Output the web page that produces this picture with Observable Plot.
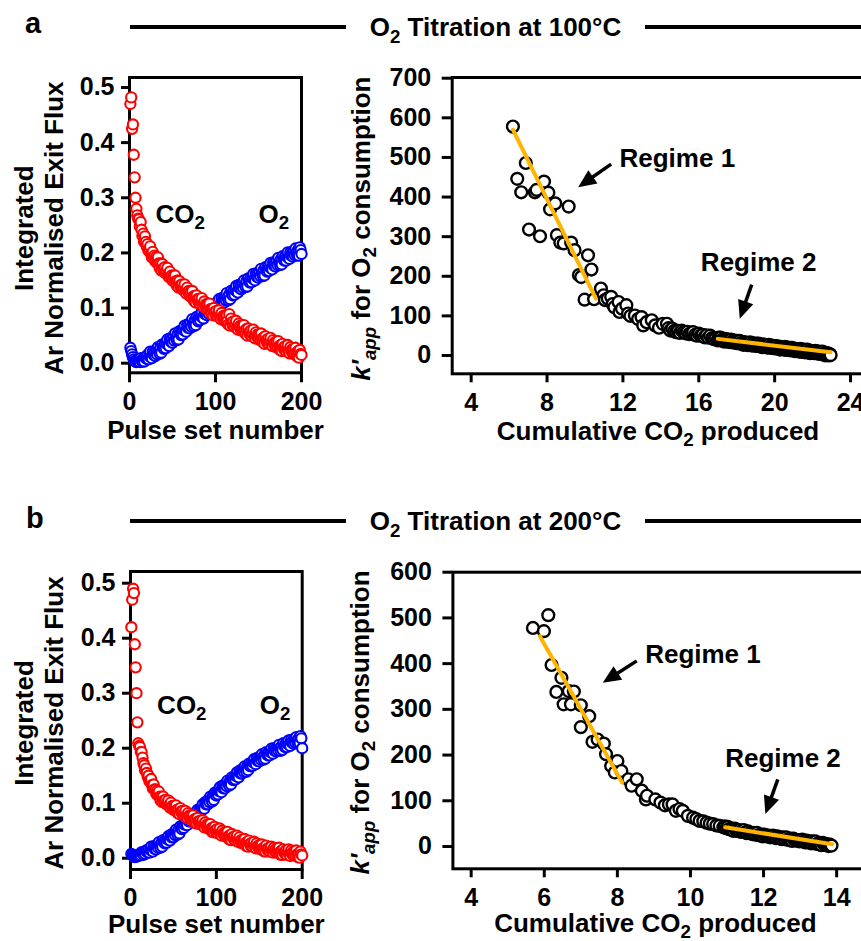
<!DOCTYPE html>
<html><head><meta charset="utf-8">
<script src="https://cdn.jsdelivr.net/npm/d3@7"></script>
<script src="https://cdn.jsdelivr.net/npm/@observablehq/plot@0.6"></script>
<style>
html,body{margin:0;padding:0;background:#fff;}
#root{position:relative;width:861px;height:941px;overflow:hidden;font-family:'Liberation Sans',Arial,Helvetica,sans-serif;font-weight:bold;color:#000;}
.heading{position:absolute;left:130px;width:731px;height:40px;display:flex;align-items:center;}
.heading .rule{flex:1;height:4px;background:#000;}
.heading .txt{font-size:26px;margin:0 24px;white-space:nowrap;line-height:1;}
.heading sub{font-size:0.72em;vertical-align:-0.375em;line-height:0;}
.panel-label{position:absolute;font-size:29px;line-height:29px;}
</style></head>
<body><div id="root">
<div class="panel-label" style="left:25px;top:9px">a</div>
<div class="heading" style="top:7px"><div class="rule"></div><div class="txt">O<sub>2</sub> Titration at 100°C</div><div class="rule"></div></div>
<div class="panel-label" style="left:26px;top:504px">b</div>
<div class="heading" style="top:501px"><div class="rule"></div><div class="txt">O<sub>2</sub> Titration at 200°C</div><div class="rule"></div></div>
</div>
<script>
// ---------------- data ----------------
const pulseSet = [1,2,3,4,5,6,7,8,9,10,11,12,13,14,15,16,17,18,19,20,21,22,23,24,25,26,27,28,29,30,31,32,33,34,35,36,37,38,39,40,41,42,43,44,45,46,47,48,49,50,51,52,53,54,55,56,57,58,59,60,61,62,63,64,65,66,67,68,69,70,71,72,73,74,75,76,77,78,79,80,81,82,83,84,85,86,87,88,89,90,91,92,93,94,95,96,97,98,99,100,101,102,103,104,105,106,107,108,109,110,111,112,113,114,115,116,117,118,119,120,121,122,123,124,125,126,127,128,129,130,131,132,133,134,135,136,137,138,139,140,141,142,143,144,145,146,147,148,149,150,151,152,153,154,155,156,157,158,159,160,161,162,163,164,165,166,167,168,169,170,171,172,173,174,175,176,177,178,179,180,181,182,183,184,185,186,187,188,189,190,191,192,193,194,195,196,197,198,199,200];

const co2A = [.470,.482,.425,.433,.378,.337,.300,.280,.268,.262,
.261,.248,.256,.242,.231,.235,.220,.230,.220,.212,
.216,.204,.207,.212,.198,.192,.202,.193,.195,.185,
.193,.182,.192,.181,.173,.181,.168,.180,.172,.167,
.174,.163,.167,.173,.160,.156,.166,.157,.159,.150,
.158,.148,.159,.149,.141,.150,.137,.149,.141,.136,
.143,.133,.137,.143,.130,.126,.137,.129,.131,.122,
.130,.120,.131,.121,.113,.122,.110,.123,.116,.111,
.117,.107,.112,.118,.106,.102,.112,.104,.107,.098,
.107,.097,.108,.098,.090,.099,.087,.100,.093,.088,
.095,.085,.090,.096,.084,.080,.091,.083,.086,.077,
.086,.076,.087,.077,.070,.089,.068,.081,.074,.069,
.076,.066,.071,.077,.065,.061,.072,.065,.068,.059,
.068,.058,.069,.059,.053,.062,.050,.063,.056,.052,
.059,.049,.054,.061,.049,.045,.056,.049,.052,.043,
.052,.043,.054,.044,.038,.047,.035,.049,.042,.037,
.044,.035,.040,.046,.035,.031,.042,.035,.038,.029,
.039,.029,.040,.031,.024,.033,.022,.035,.028,.024,
.031,.022,.027,.033,.022,.018,.029,.022,.025,.017,
.026,.017,.028,.019,.012,.022,.010,.024,.017,.015];

const o2A = [.028,.022,.016,.011,.007,.004,.003,.002,.003,.003,
.006,.002,.009,.005,.003,.008,.003,.011,.009,.008,
.015,.007,.013,.021,.011,.009,.021,.015,.020,.013,
.024,.016,.029,.022,.017,.029,.019,.034,.029,.026,
.035,.027,.035,.043,.033,.031,.045,.039,.044,.037,
.049,.041,.054,.046,.042,.053,.043,.058,.054,.051,
.060,.052,.060,.068,.058,.057,.070,.064,.070,.063,
.074,.066,.080,.072,.067,.078,.069,.084,.079,.076,
.086,.078,.085,.093,.083,.081,.095,.089,.094,.087,
.098,.090,.104,.096,.091,.102,.092,.107,.102,.099,
.109,.101,.108,.116,.106,.104,.118,.112,.117,.110,
.121,.114,.127,.119,.114,.125,.116,.131,.126,.123,
.132,.124,.132,.140,.130,.128,.142,.136,.141,.134,
.145,.137,.150,.142,.138,.149,.139,.154,.149,.146,
.155,.147,.154,.162,.152,.150,.163,.157,.162,.155,
.166,.158,.171,.163,.158,.169,.159,.174,.169,.166,
.175,.167,.174,.182,.172,.170,.183,.177,.182,.175,
.186,.178,.191,.183,.178,.189,.179,.194,.189,.186,
.194,.186,.193,.201,.191,.189,.201,.195,.200,.193,
.204,.196,.208,.200,.195,.206,.195,.210,.205,.198];

const co2B = [.420,.470,.490,.482,.389,.347,.300,.247,.209,.204,
.202,.193,.193,.183,.173,.169,.160,.163,.155,.148,
.150,.140,.142,.144,.133,.127,.134,.125,.125,.117,
.123,.114,.121,.112,.105,.112,.102,.112,.105,.101,
.106,.098,.101,.105,.096,.092,.101,.094,.095,.088,
.095,.088,.096,.088,.082,.089,.080,.091,.085,.081,
.086,.078,.082,.086,.077,.073,.082,.076,.078,.071,
.078,.070,.078,.070,.064,.072,.063,.073,.067,.063,
.068,.061,.065,.069,.060,.056,.065,.059,.061,.054,
.061,.054,.062,.054,.048,.056,.047,.057,.051,.047,
.053,.045,.049,.054,.045,.041,.050,.044,.046,.040,
.047,.040,.048,.040,.034,.042,.033,.044,.038,.035,
.040,.032,.036,.041,.032,.029,.038,.031,.033,.027,
.034,.027,.035,.028,.022,.030,.021,.032,.026,.023,
.028,.021,.025,.030,.021,.018,.027,.021,.023,.017,
.024,.017,.025,.018,.013,.020,.012,.023,.017,.014,
.019,.012,.017,.021,.013,.010,.019,.013,.016,.010,
.017,.010,.019,.011,.006,.014,.006,.016,.011,.008,
.014,.006,.011,.016,.008,.004,.014,.008,.011,.005,
.012,.005,.014,.007,.002,.009,.001,.012,.007,.005];

const o2B = [.008,.006,.004,.003,.002,.004,.003,.005,.004,.006,
.008,.005,.011,.009,.006,.011,.008,.014,.012,.011,
.016,.010,.015,.021,.014,.012,.022,.017,.021,.016,
.025,.019,.029,.023,.019,.028,.021,.033,.029,.027,
.034,.028,.034,.040,.034,.032,.043,.038,.042,.038,
.047,.042,.052,.046,.043,.052,.045,.058,.054,.053,
.060,.055,.061,.068,.061,.060,.071,.067,.071,.067,
.076,.071,.081,.076,.072,.082,.075,.088,.084,.083,
.090,.085,.091,.098,.091,.090,.102,.098,.102,.098,
.107,.102,.112,.107,.103,.113,.106,.119,.115,.114,
.121,.116,.122,.129,.122,.120,.132,.127,.132,.127,
.136,.131,.141,.135,.132,.141,.134,.147,.143,.142,
.149,.143,.149,.156,.149,.147,.159,.154,.158,.154,
.163,.157,.167,.161,.157,.167,.160,.172,.168,.167,
.174,.168,.174,.180,.173,.171,.182,.177,.181,.176,
.185,.179,.189,.183,.179,.188,.181,.193,.189,.187,
.193,.187,.193,.199,.192,.190,.200,.195,.199,.194,
.202,.196,.206,.200,.195,.204,.197,.209,.204,.202,
.209,.202,.208,.214,.207,.204,.215,.210,.213,.208,
.217,.210,.220,.214,.209,.218,.210,.222,.218,.200];

const cumCO2A = [6.20,6.43,6.64,6.88,7.05,7.36,7.45,7.63,7.84,8.07,8.16,8.43,8.52,8.70,8.88,9.14,9.27,9.45,9.68,9.80,9.98,10.16,10.34,10.48,10.84,10.98,11.05,11.20,11.38,11.46,11.55,11.77,11.82,11.95,12.18,12.27,12.40,12.63,12.80,12.98,13.07,13.25,13.52,13.70,13.90,14.10,14.32,
14.4,14.5,14.6,14.7,14.8,14.9,15.0,15.1,15.2,15.3,15.4,15.5,15.6,15.7,15.8,15.9,16.0,16.1,16.2,16.3,16.4,16.5,16.6,16.7,16.8,16.9,17.0,
17.05,17.10,17.15,17.20,17.25,17.30,17.35,17.40,17.45,17.50,17.55,17.60,17.65,17.70,17.75,17.80,17.85,17.90,17.95,18.00,
18.05,18.10,18.15,18.20,18.25,18.30,18.35,18.40,18.45,18.50,18.55,18.60,18.65,18.70,18.75,18.80,18.85,18.90,18.95,19.00,
19.05,19.10,19.15,19.20,19.25,19.30,19.35,19.40,19.45,19.50,19.55,19.60,19.65,19.70,19.75,19.80,19.85,19.90,19.95,20.00,
20.04,20.08,20.12,20.16,20.20,20.24,20.28,20.32,20.36,20.40,20.44,20.48,20.52,20.56,20.60,20.64,20.68,20.72,20.76,20.80,
20.84,20.88,20.92,20.96,21.00,21.04,21.08,21.12,21.16,21.20,21.24,21.28,21.32,21.36,21.40,21.44,21.48,21.52,21.56,21.60,
21.64,21.68,21.72,21.76,21.80,21.84,21.88,21.92,21.96,22.00,22.04,22.08,22.12,22.16,22.20,22.24,22.28,22.32,22.36,22.40,
22.44,22.48,22.52,22.56,22.60,22.64,22.68,22.72,22.76,22.80,22.84,22.88,22.92,22.95];

const kAppA = [578,446,412,486,318,412,418,301,439,411,369,384,304,285,283,376,285,266,203,198,141,253,217,142,169,152,140,144,148,130,122,135,110,118,127,106,100,101,92,97,76,84,89,76,70,80,80,
69,63,68,62,59,62,57,63,59,56,60,54,57,59,52,50,55,50,52,46,51,45,50,44,41,44,38,
45,39,45,39,37,41,35,42,38,36,40,34,38,40,34,33,38,34,36,31,
37,31,37,31,29,33,27,34,30,28,32,26,30,33,27,25,31,27,29,24,
30,24,30,25,23,26,21,28,24,22,26,20,24,27,21,19,25,21,23,18,
24,19,24,19,17,21,15,22,19,17,20,15,19,22,15,14,20,16,18,13,
19,14,19,14,12,16,11,17,14,12,16,10,14,17,11,9,15,11,14,8,
14,9,15,9,7,11,6,12,9,7,11,6,9,12,6,5,10,6,9,4,
9,4,10,4,2,6,0,7,4,1,5,0,3,1];

const cumCO2B = [5.69,5.99,6.11,6.20,6.33,6.47,6.53,6.67,6.73,6.81,7.00,7.00,7.23,7.32,7.46,7.63,7.69,7.83,7.93,8.00,8.11,8.30,8.39,8.53,8.67,8.78,8.81,9.04,9.18,9.30,9.41,9.51,9.60,9.70,9.79,9.93,10.07,10.16,10.25,10.35,10.44,10.53,10.62,10.71,10.80,10.90,
10.94,10.98,11.02,11.06,11.10,11.14,11.18,11.22,11.26,11.30,11.34,11.38,11.42,11.46,11.50,11.54,11.58,11.62,11.66,11.70,
11.74,11.78,11.82,11.86,11.90,11.94,11.98,12.02,12.06,12.10,12.14,12.18,12.22,12.26,12.30,12.34,12.38,12.42,12.46,12.50,
12.54,12.58,12.62,12.66,12.70,12.74,12.78,12.82,12.86,12.90,12.94,12.98,13.02,13.06,13.10,13.14,13.18,13.22,13.26,13.30,
13.34,13.38,13.42,13.46,13.50,13.54,13.58,13.62,13.66,13.70,13.74,13.78,13.82,13.86];

const kAppB = [478,471,506,397,338,369,311,340,311,339,309,261,285,229,234,225,202,176,162,187,165,147,133,147,122,103,111,103,96,90,92,92,78,82,78,67,63,60,56,55,52,50,49,46,45,42,
44,40,43,38,37,39,34,39,36,34,36,32,34,36,31,29,33,29,30,27,
30,26,30,25,24,26,22,26,24,22,24,20,23,24,20,18,22,18,20,16,
20,16,20,15,14,17,12,17,14,13,14,11,13,15,11,9,13,9,11,7,
11,7,11,6,5,8,3,8,5,3,5,1,4,2];

// linear fits (orange): [cumulative CO2, k'app]
const fitA1 = [[6.2, 570], [10.57, 144]];
const fitA2 = [[17.0, 42], [22.95, 8]];
const fitB1 = [[5.88, 460], [8.13, 140]];
const fitB2 = [[10.95, 42], [13.88, 5]];

const regimeLabelsA = [{x: 11.82, y: 498, text: "Regime 1"}, {x: 16.11, y: 235, text: "Regime 2"}];
const regimeArrowsA = [{x1: 11.38, y1: 483, x2: 9.64, y2: 425}, {x1: 18.79, y1: 179, x2: 18.16, y2: 93}];
const regimeLabelsB = [{x: 8.76, y: 419, text: "Regime 1"}, {x: 10.95, y: 193, text: "Regime 2"}];
const regimeArrowsB = [{x1: 8.53, y1: 406, x2: 7.60, y2: 358}, {x1: 12.39, y1: 147, x2: 12.05, y2: 71}];

const seriesLabelsA = [{x: 30.2, y: 0.270, text: "CO_{2}"}, {x: 150, y: 0.270, text: "O_{2}"}];
const seriesLabelsB = [{x: 31, y: 0.278, text: "CO_{2}"}, {x: 150.6, y: 0.278, text: "O_{2}"}];

const pulseTicks = [0, 100, 200];
const fluxTicks = [0, 0.1, 0.2, 0.3, 0.4, 0.5];
const cumTicksA = [4, 8, 12, 16, 20, 24];
const kTicksA = [0, 100, 200, 300, 400, 500, 600, 700];
const cumTicksB = [4, 6, 8, 10, 12, 14];
const kTicksB = [0, 100, 200, 300, 400, 500, 600];

const fluxTitle = "Integrated\nAr Normalised Exit Flux";
const pulseTitle = "Pulse set number";
const kTitle = "*k'*_{*app*} for O_{2} consumption";
const cumTitle = "Cumulative CO_{2} produced";

// ---------------- rendering ----------------
const FONT = "'Liberation Sans', Arial, Helvetica, sans-serif";
const ORANGE = "#FFB400";
const root = document.getElementById("root");
const SVGNS = "http://www.w3.org/2000/svg";

function richText(svg) {
  const leaves = [];
  svg.querySelectorAll("text").forEach(t => {
    const ts = t.querySelectorAll("tspan");
    if (ts.length) ts.forEach(s => leaves.push(s)); else leaves.push(t);
  });
  for (const el of leaves) {
    const s = el.textContent;
    if (!/[_*]/.test(s)) continue;
    el.textContent = "";
    const re = /_\{([^}]*)\}|\*([^*]*)\*|([^_*]+)/g;
    let m, lowered = false;
    while ((m = re.exec(s))) {
      const ts = document.createElementNS(SVGNS, "tspan");
      if (m[1] !== undefined) {
        let c = m[1];
        if (/^\*.*\*$/.test(c)) { c = c.slice(1, -1); ts.setAttribute("font-style", "italic"); }
        ts.textContent = c;
        ts.style.fontSize = "0.72em";
        if (!lowered) ts.setAttribute("dy", "0.33em");
        lowered = true;
      } else {
        const italic = m[2] !== undefined;
        ts.textContent = italic ? m[2] : m[3];
        if (italic) ts.setAttribute("font-style", "italic");
        if (lowered) { ts.setAttribute("dy", "-0.2376em"); lowered = false; }
      }
      el.appendChild(ts);
    }
  }
}

function layout(box, frame) {
  return {
    width: box.w, height: box.h,
    marginLeft: frame.x0 - box.x, marginRight: box.x + box.w - frame.x1,
    marginTop: frame.y0 - box.y, marginBottom: box.y + box.h - frame.y1
  };
}

function place(svg, box) {
  svg.style.position = "absolute";
  svg.style.left = box.x + "px";
  svg.style.top = box.y + "px";
  svg.style.maxWidth = "none";
  svg.style.overflow = "visible";
  svg.style.background = "transparent";
  richText(svg);
  root.appendChild(svg);
}

const baseStyle = {fontFamily: FONT, fontWeight: "bold", fontSize: "25px", color: "#000", background: "transparent", overflow: "visible"};

function leftPanel({box, frame, yDomain, co2, o2, labels, yDx, yDy, titleDy}) {
  const rows = pulseSet.map((p, i) => ({p, co2: co2[i], o2: o2[i]}));
  const svg = Plot.plot({
    ...layout(box, frame),
    style: baseStyle,
    x: {domain: [0, 200]},
    y: {domain: yDomain},
    marks: [
      Plot.frame({stroke: "#000", strokeWidth: 3}),
      Plot.axisX({ticks: pulseTicks, tickSize: 10, tickPadding: 9, strokeWidth: 3, fontSize: 25, fontWeight: "bold", label: null}),
      Plot.axisY({ticks: fluxTicks, tickFormat: d3.format(".1f"), tickSize: 8, tickPadding: 7, strokeWidth: 3, fontSize: 25, fontWeight: "bold", label: null}),
      Plot.dot(rows, {x: "p", y: "o2", r: 5.1, stroke: "#0000ff", strokeWidth: 2.1, fill: "#fff"}),
      Plot.dot(rows, {x: "p", y: "co2", r: 5.1, stroke: "#ff0000", strokeWidth: 2.1, fill: "#fff"}),
      Plot.text(labels, {x: "x", y: "y", text: "text", textAnchor: "start", lineAnchor: "middle", fontSize: 26, fontWeight: "bold"}),
      Plot.text([fluxTitle], {text: d => d, frameAnchor: "left", textAnchor: "middle", lineAnchor: "middle", rotate: -90, dx: yDx, dy: yDy, lineHeight: 1.15, fontSize: 26, fontWeight: "bold"}),
      Plot.text([pulseTitle], {text: d => d, frameAnchor: "bottom", textAnchor: "middle", lineAnchor: "middle", dy: titleDy, fontSize: 26, fontWeight: "bold"})
    ]
  });
  place(svg, box);
}

function arrowHead(angle) {
  const L = 18, W = 8;
  const ux = Math.cos(angle), uy = Math.sin(angle);
  const bx = -L * ux, by = -L * uy, px = -uy, py = ux;
  return {draw(ctx) {
    ctx.moveTo(0, 0);
    ctx.lineTo(bx + W * px, by + W * py);
    ctx.lineTo(bx - W * px, by - W * py);
    ctx.closePath();
  }};
}

function rightPanel({box, frame, xDomain, yDomain, xTicks, yTicks, cum, k, fits, regimeLabels, arrows, xTitleX, yDx, yDy, titleDy}) {
  const pts = cum.map((c, i) => ({c, k: k[i]}));
  const kx = (frame.x1 - frame.x0) / (xDomain[1] - xDomain[0]);
  const ky = (frame.y1 - frame.y0) / (yDomain[1] - yDomain[0]);
  const shafts = arrows.map(a => {
    const dx = (a.x2 - a.x1) * kx, dy = (a.y2 - a.y1) * ky;
    const len = Math.hypot(dx, dy), f = (len - 9) / len;
    return {x1: a.x1, y1: a.y1, x2: a.x1 + (a.x2 - a.x1) * f, y2: a.y1 + (a.y2 - a.y1) * f};
  });
  const heads = arrows.map(a => {
    const ang = Math.atan2(-(a.y2 - a.y1) * ky, (a.x2 - a.x1) * kx);
    return Plot.dot([a], {x: "x2", y: "y2", symbol: arrowHead(ang), fill: "#000", stroke: "none", r: 5});
  });
  const svg = Plot.plot({
    ...layout(box, frame),
    style: baseStyle,
    x: {domain: xDomain},
    y: {domain: yDomain},
    marks: [
      Plot.frame({stroke: "#000", strokeWidth: 3}),
      Plot.axisX({ticks: xTicks, tickSize: 9, tickPadding: 10, strokeWidth: 3, fontSize: 25, fontWeight: "bold", label: null}),
      Plot.axisY({ticks: yTicks, tickSize: 10, tickPadding: 11, strokeWidth: 3, fontSize: 25, fontWeight: "bold", label: null}),
      Plot.dot(pts, {x: "c", y: "k", r: 5.9, stroke: "#000", strokeWidth: 2.4, fill: "#fff"}),
      ...fits.map(f => Plot.line(f, {x: d => d[0], y: d => d[1], stroke: ORANGE, strokeWidth: 4})),
      Plot.link(shafts, {x1: "x1", y1: "y1", x2: "x2", y2: "y2", stroke: "#000", strokeWidth: 3.5}),
      ...heads,
      Plot.text(regimeLabels, {x: "x", y: "y", text: "text", textAnchor: "start", lineAnchor: "middle", fontSize: 26, fontWeight: "bold"}),
      Plot.text([kTitle], {text: d => d, frameAnchor: "left", textAnchor: "middle", lineAnchor: "middle", rotate: -90, dx: yDx, dy: yDy, fontSize: 26, fontWeight: "bold"}),
      Plot.text([{x: xTitleX, t: cumTitle}], {x: "x", text: "t", frameAnchor: "bottom", textAnchor: "middle", lineAnchor: "middle", dy: titleDy, fontSize: 26, fontWeight: "bold"})
    ]
  });
  place(svg, box);
}

leftPanel({box: {x: 0, y: 60, w: 330, h: 400}, frame: {x0: 129, x1: 301, y0: 77, y1: 372.3},
  yDomain: [-0.0174, 0.5181], co2: co2A, o2: o2A, labels: seriesLabelsA, yDx: -91, yDy: 3, titleDy: 58});
leftPanel({box: {x: 0, y: 554, w: 330, h: 387}, frame: {x0: 130, x1: 301.7, y0: 571, y1: 869},
  yDomain: [-0.0205, 0.5213], co2: co2B, o2: o2B, labels: seriesLabelsB, yDx: -92.5, yDy: 2.5, titleDy: 55});
rightPanel({box: {x: 330, y: 60, w: 570, h: 400}, frame: {x0: 451.7, x1: 869.0, y0: 77, y1: 373.3},
  xDomain: [3, 25], yDomain: [-46.2, 701.8], xTicks: cumTicksA, yTicks: kTicksA, cum: cumCO2A, k: kAppA,
  fits: [fitA1, fitA2], regimeLabels: regimeLabelsA, arrows: regimeArrowsA, xTitleX: 13.85, yDx: -91, yDy: 3, titleDy: 57.5});
rightPanel({box: {x: 330, y: 554, w: 570, h: 387}, frame: {x0: 452.4, x1: 872.7, y0: 571.7, y1: 868.3},
  xDomain: [3.5, 15], yDomain: [-48.8, 600], xTicks: cumTicksB, yTicks: kTicksB, cum: cumCO2B, k: kAppB,
  fits: [fitB1, fitB2], regimeLabels: regimeLabelsB, arrows: regimeArrowsB, xTitleX: 9.04, yDx: -92, yDy: 2, titleDy: 55});
</script>
</body></html>
